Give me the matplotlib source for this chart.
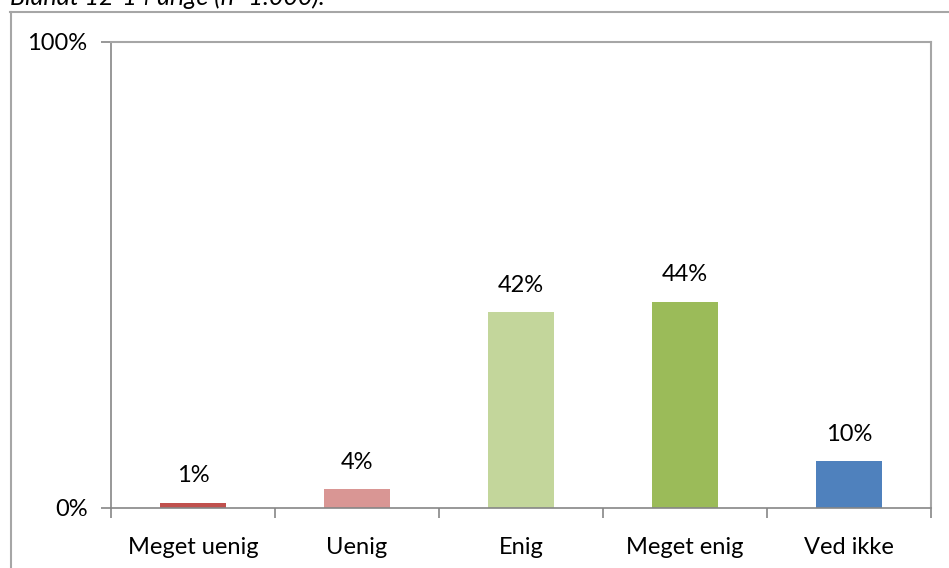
import matplotlib.pyplot as plt
from matplotlib.lines import Line2D

categories = ['Meget uenig', 'Uenig', 'Enig', 'Meget enig', 'Ved ikke']
values = [0.011, 0.04, 0.42, 0.442, 0.10]
labels = ['1%', '4%', '42%', '44%', '10%']
colors = ['#C0504D', '#D99694', '#C3D69B', '#9BBB59', '#4F81BD']

W, H = 949, 568
plt.rcParams['font.family'] = ['Lato', 'DejaVu Sans']
fig = plt.figure(figsize=(W / 100, H / 100), dpi=100)

# outer frame (cut off at right and bottom)
grey = '#A6A6A6'
fig.add_artist(Line2D([10.5 / W, 10.5 / W], [0, 1 - 12 / H], color=grey, lw=1.5))
fig.add_artist(Line2D([10 / W, 1], [1 - 12 / H, 1 - 12 / H], color=grey, lw=1.5))

# caption, partly cut off at the top like in the source
fig.text(10 / W, 1 - 5 / H, 'Blandt 12-14 årige (n=1.000).', style='italic',
         fontsize=18, va='baseline', ha='left')

fs = 17
ax = fig.add_axes([111 / W, 1 - 508 / H, 820 / W, 466 / H])
x = range(len(categories))
ax.bar(x, values, width=0.4, color=colors)
for xi, v, lab in zip(x, values, labels):
    ax.annotate(lab, (xi, v), xytext=(0, 12), textcoords='offset points',
                ha='center', va='bottom', fontsize=fs)

ax.set_xlim(-0.5, 4.5)
ax.set_ylim(0, 1)
ax.set_yticks([0, 1])
ax.set_yticklabels(['0%', '100%'], fontsize=fs)
ax.set_xticks(x)
ax.set_xticklabels(categories, fontsize=fs)
ax.set_xticks([i - 0.5 for i in range(6)], minor=True)
ax.tick_params(axis='x', which='major', length=0, pad=21)
ax.tick_params(axis='x', which='minor', length=7, color='#868686', width=1.2)
ax.tick_params(axis='y', length=7, color='#868686', width=1.2, pad=10)

for s in ['left', 'bottom']:
    ax.spines[s].set_color('#868686')
    ax.spines[s].set_linewidth(1.2)
for s in ['top', 'right']:
    ax.spines[s].set_color('#A6A6A6')
    ax.spines[s].set_linewidth(1.5)

plt.savefig('out.png', dpi=100)
